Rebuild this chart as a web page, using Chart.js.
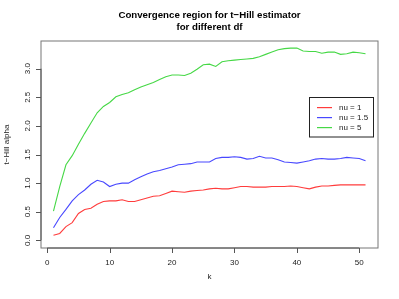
<!DOCTYPE html>
<html>
<head>
<meta charset="utf-8">
<script src="https://cdn.jsdelivr.net/npm/chart.js@4"></script>
<style>
  html, body { margin: 0; padding: 0; background: #fff; }
  canvas { display: block; }
</style>
</head>
<body>
<canvas id="hillChart" width="399" height="299"></canvas>
<script>
// k values (number of order statistics)
const kValues = [];
for (let k = 1; k <= 51; k++) kValues.push(k);

// t-Hill alpha estimates
const nu1 = [0.09, 0.12, 0.24, 0.31, 0.47, 0.54, 0.56, 0.63, 0.68, 0.69,
             0.69, 0.71, 0.68, 0.68, 0.71, 0.74, 0.77, 0.78, 0.82, 0.86,
             0.85, 0.84, 0.86, 0.87, 0.88, 0.90, 0.91, 0.90, 0.90, 0.92,
             0.94, 0.94, 0.93, 0.93, 0.93, 0.94, 0.94, 0.94, 0.95, 0.94,
             0.92, 0.90, 0.93, 0.95, 0.95, 0.96, 0.97, 0.97, 0.97, 0.97,
             0.97];
const nu15 = [0.22, 0.40, 0.54, 0.69, 0.80, 0.88, 0.98, 1.05, 1.02, 0.94,
              0.98, 1.00, 1.00, 1.06, 1.11, 1.16, 1.20, 1.22, 1.25, 1.28,
              1.32, 1.33, 1.34, 1.37, 1.37, 1.37, 1.43, 1.45, 1.45, 1.46,
              1.45, 1.42, 1.43, 1.47, 1.44, 1.44, 1.41, 1.37, 1.36, 1.35,
              1.37, 1.39, 1.42, 1.43, 1.42, 1.42, 1.43, 1.45, 1.44, 1.43,
              1.39];
const nu5 = [0.51, 0.94, 1.32, 1.48, 1.68, 1.87, 2.05, 2.23, 2.34, 2.41,
             2.51, 2.55, 2.58, 2.63, 2.68, 2.72, 2.76, 2.81, 2.86, 2.89,
             2.89, 2.88, 2.92, 2.99, 3.07, 3.08, 3.04, 3.12, 3.14, 3.15,
             3.16, 3.17, 3.18, 3.21, 3.25, 3.29, 3.33, 3.35, 3.36, 3.36,
             3.31, 3.30, 3.30, 3.27, 3.29, 3.29, 3.25, 3.26, 3.29, 3.28,
             3.26];

const seriesNames = ['nu = 1', 'nu = 1.5', 'nu = 5'];
const seriesColors = ['#ff3c3c', '#4848ff', '#46d846'];

const xTicks = [0, 10, 20, 30, 40, 50];
const yTicks = [0.0, 0.5, 1.0, 1.5, 2.0, 2.5, 3.0];

const FONT = '"Liberation Sans", Arial, Helvetica, sans-serif';

function toPoints(values) {
    return kValues.map((k, i) => ({ x: k, y: values[i] }));
}

// R-style box, axes, title and legend
const rStylePlugin = {
    id: 'rStyle',
    afterDraw(chart) {
        const ctx = chart.ctx;
        const area = chart.chartArea;
        const xs = chart.scales.x;
        const ys = chart.scales.y;
        ctx.save();

        // plot box
        ctx.strokeStyle = '#777';
        ctx.lineWidth = 1;
        ctx.strokeRect(area.left, area.top, area.right - area.left, area.bottom - area.top);

        ctx.strokeStyle = '#555';
        ctx.fillStyle = '#222';
        ctx.font = '8px ' + FONT;

        // x axis
        const x0 = xs.getPixelForValue(xTicks[0]);
        const x1 = xs.getPixelForValue(xTicks[xTicks.length - 1]);
        ctx.beginPath();
        ctx.moveTo(x0, area.bottom);
        ctx.lineTo(x1, area.bottom);
        xTicks.forEach(t => {
            const px = Math.round(xs.getPixelForValue(t)) + 0.5;
            ctx.moveTo(px, area.bottom);
            ctx.lineTo(px, area.bottom + 5);
        });
        ctx.stroke();
        ctx.textAlign = 'center';
        ctx.textBaseline = 'middle';
        xTicks.forEach(t => {
            ctx.fillText(String(t), xs.getPixelForValue(t), 263);
        });
        ctx.fillText('k', (area.left + area.right) / 2, 277);

        // y axis
        const y0 = ys.getPixelForValue(yTicks[0]);
        const y1 = ys.getPixelForValue(yTicks[yTicks.length - 1]);
        ctx.beginPath();
        ctx.moveTo(area.left, y0);
        ctx.lineTo(area.left, y1);
        yTicks.forEach(t => {
            const py = Math.round(ys.getPixelForValue(t)) + 0.5;
            ctx.moveTo(area.left, py);
            ctx.lineTo(area.left - 5, py);
        });
        ctx.stroke();
        yTicks.forEach(t => {
            ctx.save();
            ctx.translate(28, ys.getPixelForValue(t));
            ctx.rotate(-Math.PI / 2);
            ctx.fillText(t.toFixed(1), 0, 0);
            ctx.restore();
        });
        ctx.save();
        ctx.translate(7, (area.top + area.bottom) / 2);
        ctx.rotate(-Math.PI / 2);
        ctx.fillText('t\u2212Hill alpha', 0, 0);
        ctx.restore();

        // title
        ctx.fillStyle = '#000';
        ctx.font = 'bold 9.7px ' + FONT;
        const cx = (area.left + area.right) / 2;
        ctx.fillText('Convergence region for t\u2212Hill estimator', cx, 15);
        ctx.fillText('for different df', cx, 27);

        // legend
        const lx = 309.5, ly = 97.5, lw = 64, lh = 39.5;
        ctx.fillStyle = '#fff';
        ctx.fillRect(lx, ly, lw, lh);
        ctx.strokeStyle = '#222';
        ctx.strokeRect(lx, ly, lw, lh);
        ctx.font = '8px ' + FONT;
        ctx.textAlign = 'left';
        seriesNames.forEach((name, i) => {
            const ry = 107.5 + i * 10;
            ctx.fillStyle = seriesColors[i];
            ctx.fillRect(317, ry - 0.5, 15, 1.2);
            ctx.fillStyle = '#222';
            ctx.fillText(name, 339, ry);
        });

        ctx.restore();
    }
};

new Chart(document.getElementById('hillChart'), {
    type: 'line',
    data: {
        datasets: seriesNames.map((name, i) => ({
            label: name,
            data: toPoints([nu1, nu15, nu5][i]),
            borderColor: seriesColors[i],
            borderWidth: 1.1,
            pointRadius: 0,
            tension: 0,
            fill: false
        }))
    },
    options: {
        responsive: false,
        animation: false,
        layout: {
            padding: { left: 41, right: 21, top: 41, bottom: 51 }
        },
        scales: {
            x: { type: 'linear', min: -1, max: 53, display: false },
            y: { type: 'linear', min: -0.134, max: 3.484, display: false }
        },
        plugins: {
            legend: { display: false },
            title: { display: false },
            tooltip: { enabled: false }
        }
    },
    plugins: [rStylePlugin]
});
</script>
</body>
</html>
